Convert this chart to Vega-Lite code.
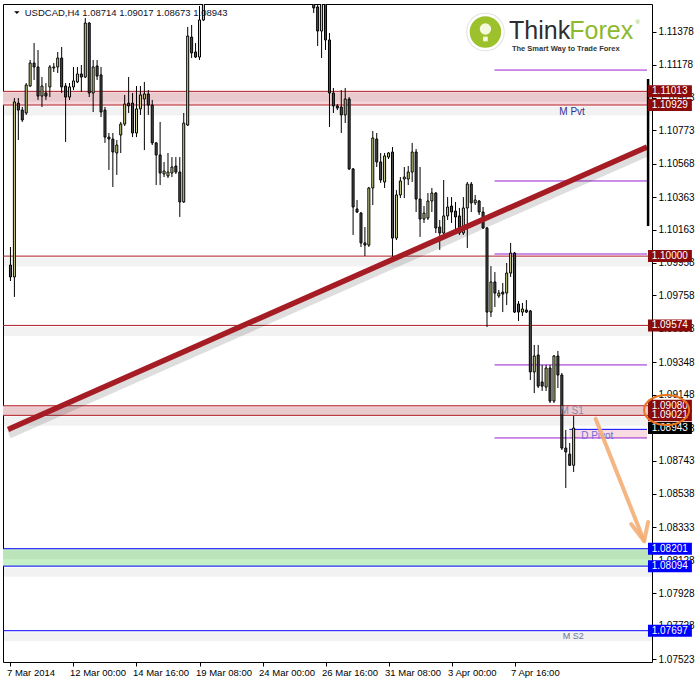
{
 "$schema": "https://vega.github.io/schema/vega-lite/v6.json",
 "width": 649,
 "height": 658,
 "autosize": {"type": "none"},
 "padding": {"left": 3, "top": 4, "right": 45, "bottom": 20},
 "background": "#ffffff",
 "config": {
  "font": "Liberation Sans",
  "view": {"stroke": "#000000", "strokeWidth": 1},
  "axis": {"grid": false, "domain": false, "tickColor": "#000000", "tickWidth": 1, "labelColor": "#000000", "labelOverlap": false, "labelBound": false, "labelFlush": false}
 },
 "datasets": {
  "candles": [
   {"i":0,"o":1.09945,"h":1.10056,"l":1.09847,"c":1.09872},
   {"i":1,"o":1.09872,"h":1.10972,"l":1.09749,"c":1.10948},
   {"i":2,"o":1.10941,"h":1.10972,"l":1.10714,"c":1.10898},
   {"i":3,"o":1.10898,"h":1.10917,"l":1.10825,"c":1.10837},
   {"i":4,"o":1.10880,"h":1.11064,"l":1.10868,"c":1.11052},
   {"i":5,"o":1.11046,"h":1.11206,"l":1.11040,"c":1.11187},
   {"i":6,"o":1.11187,"h":1.11310,"l":1.11083,"c":1.11163},
   {"i":7,"o":1.11163,"h":1.11267,"l":1.10960,"c":1.10984},
   {"i":8,"o":1.10984,"h":1.11101,"l":1.10917,"c":1.11046},
   {"i":9,"o":1.11003,"h":1.11064,"l":1.10960,"c":1.10984},
   {"i":10,"o":1.11040,"h":1.11175,"l":1.10978,"c":1.11163},
   {"i":11,"o":1.11157,"h":1.11187,"l":1.11132,"c":1.11163},
   {"i":12,"o":1.11163,"h":1.11255,"l":1.11126,"c":1.11218},
   {"i":13,"o":1.11218,"h":1.11286,"l":1.11003,"c":1.11040},
   {"i":14,"o":1.11046,"h":1.11064,"l":1.10702,"c":1.10978},
   {"i":15,"o":1.10978,"h":1.11064,"l":1.10960,"c":1.11040},
   {"i":16,"o":1.11040,"h":1.11163,"l":1.11021,"c":1.11077},
   {"i":17,"o":1.11071,"h":1.11163,"l":1.11064,"c":1.11120},
   {"i":18,"o":1.11120,"h":1.11175,"l":1.11009,"c":1.11101},
   {"i":19,"o":1.11101,"h":1.11464,"l":1.11095,"c":1.11433},
   {"i":20,"o":1.11433,"h":1.11439,"l":1.10978,"c":1.11003},
   {"i":21,"o":1.11003,"h":1.11206,"l":1.10886,"c":1.11163},
   {"i":22,"o":1.11169,"h":1.11206,"l":1.11083,"c":1.11107},
   {"i":23,"o":1.11114,"h":1.11163,"l":1.10855,"c":1.10886},
   {"i":24,"o":1.10898,"h":1.10917,"l":1.10696,"c":1.10732},
   {"i":25,"o":1.10732,"h":1.10757,"l":1.10530,"c":1.10720},
   {"i":26,"o":1.10720,"h":1.10757,"l":1.10425,"c":1.10640},
   {"i":27,"o":1.10634,"h":1.10714,"l":1.10499,"c":1.10683},
   {"i":28,"o":1.10745,"h":1.10825,"l":1.10634,"c":1.10812},
   {"i":29,"o":1.10812,"h":1.10991,"l":1.10800,"c":1.10935},
   {"i":30,"o":1.10941,"h":1.11101,"l":1.10880,"c":1.10923},
   {"i":31,"o":1.10941,"h":1.11003,"l":1.10732,"c":1.10757},
   {"i":32,"o":1.10757,"h":1.11046,"l":1.10732,"c":1.10905},
   {"i":33,"o":1.10905,"h":1.11046,"l":1.10868,"c":1.10991},
   {"i":34,"o":1.10966,"h":1.11071,"l":1.10652,"c":1.10997},
   {"i":35,"o":1.10997,"h":1.11021,"l":1.10868,"c":1.10929},
   {"i":36,"o":1.10929,"h":1.10960,"l":1.10683,"c":1.10696},
   {"i":37,"o":1.10696,"h":1.10702,"l":1.10437,"c":1.10622},
   {"i":38,"o":1.10622,"h":1.10825,"l":1.10437,"c":1.10511},
   {"i":39,"o":1.10505,"h":1.10579,"l":1.10486,"c":1.10523},
   {"i":40,"o":1.10493,"h":1.10634,"l":1.10480,"c":1.10517},
   {"i":41,"o":1.10511,"h":1.10609,"l":1.10486,"c":1.10548},
   {"i":42,"o":1.10554,"h":1.10609,"l":1.10505,"c":1.10517},
   {"i":43,"o":1.10517,"h":1.10609,"l":1.10241,"c":1.10333},
   {"i":44,"o":1.10333,"h":1.10880,"l":1.10327,"c":1.10818},
   {"i":45,"o":1.10806,"h":1.11409,"l":1.10800,"c":1.11353},
   {"i":46,"o":1.11347,"h":1.11421,"l":1.11218,"c":1.11249},
   {"i":47,"o":1.11255,"h":1.11310,"l":1.11218,"c":1.11224},
   {"i":48,"o":1.11224,"h":1.11538,"l":1.11206,"c":1.11452},
   {"i":49,"o":1.11452,"h":1.11720,"l":1.11445,"c":1.11650},
   {"i":77,"o":1.11570,"h":1.11620,"l":1.11495,"c":1.11526},
   {"i":78,"o":1.11532,"h":1.11600,"l":1.11292,"c":1.11384},
   {"i":79,"o":1.11384,"h":1.11650,"l":1.11218,"c":1.11600},
   {"i":80,"o":1.11610,"h":1.11660,"l":1.11267,"c":1.11329},
   {"i":81,"o":1.11329,"h":1.11372,"l":1.10794,"c":1.11003},
   {"i":82,"o":1.11003,"h":1.11034,"l":1.10880,"c":1.10923},
   {"i":83,"o":1.10923,"h":1.10935,"l":1.10898,"c":1.10911},
   {"i":84,"o":1.10917,"h":1.11021,"l":1.10757,"c":1.10868},
   {"i":85,"o":1.10868,"h":1.11034,"l":1.10818,"c":1.10966},
   {"i":86,"o":1.10966,"h":1.10978,"l":1.10530,"c":1.10536},
   {"i":87,"o":1.10536,"h":1.10542,"l":1.10130,"c":1.10302},
   {"i":88,"o":1.10290,"h":1.10345,"l":1.10265,"c":1.10271},
   {"i":89,"o":1.10265,"h":1.10271,"l":1.10056,"c":1.10081},
   {"i":90,"o":1.10081,"h":1.10179,"l":1.10001,"c":1.10068},
   {"i":91,"o":1.10068,"h":1.10425,"l":1.10056,"c":1.10419},
   {"i":92,"o":1.10419,"h":1.10769,"l":1.10314,"c":1.10726},
   {"i":93,"o":1.10720,"h":1.10757,"l":1.10548,"c":1.10579},
   {"i":94,"o":1.10579,"h":1.10634,"l":1.10450,"c":1.10468},
   {"i":95,"o":1.10456,"h":1.10634,"l":1.10419,"c":1.10616},
   {"i":96,"o":1.10609,"h":1.10640,"l":1.10597,"c":1.10634},
   {"i":97,"o":1.10640,"h":1.10671,"l":1.09995,"c":1.10111},
   {"i":98,"o":1.10111,"h":1.10406,"l":1.10099,"c":1.10376},
   {"i":99,"o":1.10376,"h":1.10486,"l":1.10357,"c":1.10462},
   {"i":100,"o":1.10474,"h":1.10548,"l":1.10357,"c":1.10486},
   {"i":101,"o":1.10474,"h":1.10554,"l":1.10437,"c":1.10517},
   {"i":102,"o":1.10517,"h":1.10696,"l":1.10456,"c":1.10640},
   {"i":103,"o":1.10640,"h":1.10659,"l":1.10271,"c":1.10351},
   {"i":104,"o":1.10351,"h":1.10548,"l":1.10118,"c":1.10228},
   {"i":105,"o":1.10228,"h":1.10308,"l":1.10204,"c":1.10265},
   {"i":106,"o":1.10234,"h":1.10388,"l":1.10222,"c":1.10339},
   {"i":107,"o":1.10339,"h":1.10419,"l":1.10271,"c":1.10388},
   {"i":108,"o":1.10388,"h":1.10394,"l":1.10142,"c":1.10173},
   {"i":109,"o":1.10179,"h":1.10222,"l":1.10038,"c":1.10142},
   {"i":110,"o":1.10142,"h":1.10468,"l":1.10130,"c":1.10247},
   {"i":111,"o":1.10247,"h":1.10363,"l":1.10222,"c":1.10302},
   {"i":112,"o":1.10308,"h":1.10363,"l":1.10204,"c":1.10271},
   {"i":113,"o":1.10277,"h":1.10333,"l":1.10161,"c":1.10241},
   {"i":114,"o":1.10247,"h":1.10296,"l":1.10130,"c":1.10142},
   {"i":115,"o":1.10142,"h":1.10363,"l":1.10130,"c":1.10296},
   {"i":116,"o":1.10296,"h":1.10456,"l":1.10050,"c":1.10443},
   {"i":117,"o":1.10443,"h":1.10456,"l":1.10271,"c":1.10327},
   {"i":118,"o":1.10327,"h":1.10376,"l":1.10314,"c":1.10345},
   {"i":119,"o":1.10339,"h":1.10345,"l":1.10253,"c":1.10271},
   {"i":120,"o":1.10271,"h":1.10302,"l":1.10167,"c":1.10173},
   {"i":121,"o":1.10173,"h":1.10179,"l":1.09564,"c":1.09656},
   {"i":122,"o":1.09656,"h":1.09939,"l":1.09626,"c":1.09841},
   {"i":123,"o":1.09841,"h":1.09902,"l":1.09687,"c":1.09773},
   {"i":124,"o":1.09755,"h":1.09792,"l":1.09743,"c":1.09773},
   {"i":125,"o":1.09779,"h":1.09835,"l":1.09656,"c":1.09767},
   {"i":126,"o":1.09773,"h":1.09958,"l":1.09699,"c":1.09896},
   {"i":127,"o":1.09896,"h":1.10081,"l":1.09872,"c":1.10019},
   {"i":128,"o":1.10019,"h":1.10025,"l":1.09650,"c":1.09656},
   {"i":129,"o":1.09706,"h":1.09724,"l":1.09601,"c":1.09656},
   {"i":130,"o":1.09656,"h":1.09712,"l":1.09632,"c":1.09675},
   {"i":131,"o":1.09669,"h":1.09730,"l":1.09650,"c":1.09656},
   {"i":132,"o":1.09663,"h":1.09669,"l":1.09238,"c":1.09288},
   {"i":133,"o":1.09288,"h":1.09454,"l":1.09158,"c":1.09386},
   {"i":134,"o":1.09392,"h":1.09454,"l":1.09189,"c":1.09201},
   {"i":135,"o":1.09226,"h":1.09331,"l":1.09171,"c":1.09201},
   {"i":136,"o":1.09195,"h":1.09331,"l":1.09171,"c":1.09312},
   {"i":137,"o":1.09312,"h":1.09331,"l":1.09097,"c":1.09109},
   {"i":138,"o":1.09109,"h":1.09392,"l":1.09097,"c":1.09386},
   {"i":139,"o":1.09386,"h":1.09417,"l":1.09189,"c":1.09269},
   {"i":140,"o":1.09269,"h":1.09282,"l":1.08808,"c":1.08820},
   {"i":141,"o":1.08820,"h":1.08931,"l":1.08574,"c":1.08796},
   {"i":142,"o":1.08783,"h":1.08851,"l":1.08710,"c":1.08714},
   {"i":143,"o":1.08714,"h":1.09017,"l":1.08673,"c":1.08943}
  ],
  "levels": [
   {"p":1.11013,"kind":"res"},{"p":1.10929,"kind":"res"},{"p":1.10000,"kind":"res"},
   {"p":1.09574,"kind":"res"},{"p":1.09080,"kind":"res"},{"p":1.09021,"kind":"res"},
   {"p":1.08201,"kind":"sup"},{"p":1.08094,"kind":"sup"},{"p":1.07697,"kind":"sup"}
  ],
  "bands": [
   {"top":1.11013,"bot":1.10929,"kind":"res"},
   {"top":1.09080,"bot":1.09021,"kind":"res"},
   {"top":1.08201,"bot":1.08094,"kind":"sup"}
  ],
  "pivots": [
   {"p":1.11144,"start":122.9},{"p":1.10462,"start":122.9},{"p":1.10013,"start":122.9},
   {"p":1.09331,"start":122.9},{"p":1.08882,"start":122.9}
  ],
  "dpivot": [{"top":1.08935,"bot":1.08882,"start":141.9}],
  "tags": [
   {"p":1.11013,"kind":"res"},{"p":1.10929,"kind":"res"},{"p":1.10000,"kind":"res"},
   {"p":1.09574,"kind":"res"},{"p":1.09080,"kind":"res"},{"p":1.09021,"kind":"res"},
   {"p":1.08943,"kind":"bid"},{"p":1.08201,"kind":"sup"},{"p":1.08094,"kind":"sup"},
   {"p":1.07697,"kind":"sup"}
  ],
  "trend": [{"i":-0.625,"p":1.08934},{"i":161.625,"p":1.10671}],
  "arrow": [
   {"seg":"shaft","o":0,"i":148.6,"p":1.08999},
   {"seg":"shaft","o":1,"i":160.9,"p":1.08248},
   {"seg":"head","o":0,"i":157.6,"p":1.08353},
   {"seg":"head","o":1,"i":160.9,"p":1.08248},
   {"seg":"head","o":2,"i":161.9,"p":1.08365}
  ]
 },
 "layer": [
  {
   "data": {"name": "bands"},
   "mark": {"type": "rect"},
   "encoding": {
    "y": {"field": "top", "type": "quantitative", "title": null,
     "scale": {"domain": [1.075046, 1.115501], "nice": false, "zero": false},
     "axis": {"orient": "right", "values": [1.11378,1.11178,1.10973,1.10773,1.10568,1.10363,1.10163,1.09958,1.09758,1.09553,1.09348,1.09148,1.08943,1.08743,1.08538,1.08333,1.08128,1.07928,1.07728,1.07523],
      "tickCount": 60, "format": ".5f", "labelFontSize": 10, "labelPadding": 2, "tickSize": 4, "labelOverlap": false, "labelBound": false, "labelFlush": false, "title": null}},
    "y2": {"field": "bot"},
    "fill": {"condition": {"test": "datum.kind == 'res'", "value": "#F6D6DA"}, "value": "#C6F1C6"}
   }
  },
  {
   "data": {"name": "dpivot"},
   "mark": {"type": "rect", "fill": "#F8DCE1"},
   "encoding": {
    "x": {"field": "start", "type": "quantitative"},
    "x2": {"datum": 161.625},
    "y": {"field": "top", "type": "quantitative"},
    "y2": {"field": "bot"}
   }
  },
  {
   "data": {"name": "levels"},
   "mark": {"type": "rule", "color": "#000000", "opacity": 0.05, "strokeWidth": 9, "yOffset": 6},
   "encoding": {"y": {"field": "p", "type": "quantitative"}}
  },
  {
   "data": {"name": "levels"},
   "mark": {"type": "rule", "strokeWidth": 1},
   "encoding": {
    "y": {"field": "p", "type": "quantitative"},
    "color": {"condition": {"test": "datum.kind == 'res'", "value": "#B01E26"}, "value": "#0000FF"}
   }
  },
  {
   "data": {"name": "pivots"},
   "mark": {"type": "rule", "color": "#9A1FD0", "strokeWidth": 1},
   "encoding": {
    "x": {"field": "start", "type": "quantitative"},
    "x2": {"datum": 161.625},
    "y": {"field": "p", "type": "quantitative"}
   }
  },
  {
   "data": {"name": "dpivot"},
   "mark": {"type": "rule", "color": "#0000FF", "strokeWidth": 1},
   "encoding": {
    "x": {"field": "start", "type": "quantitative"},
    "x2": {"datum": 161.625},
    "y": {"field": "top", "type": "quantitative"}
   }
  },
  {
   "data": {"name": "candles"},
   "mark": {"type": "rule", "color": "#000000", "strokeWidth": 1, "clip": true},
   "encoding": {
    "x": {"field": "i", "type": "quantitative", "title": null,
     "scale": {"domain": [-0.625, 161.625], "nice": false, "zero": false},
     "axis": {"values": [0,16,32,48,64,80,96,112,128], "tickCount": 40,
      "labelExpr": "['7 Mar 2014','12 Mar 00:00','14 Mar 16:00','19 Mar 08:00','24 Mar 00:00','26 Mar 16:00','31 Mar 08:00','3 Apr 00:00','7 Apr 16:00'][round(datum.value/16)]",
      "labelAlign": "left", "labelFontSize": 9.5, "labelPadding": 1, "labelOffset": -4, "tickSize": 4, "labelFlush": false, "labelOverlap": false, "labelBound": false, "title": null}},
    "y": {"field": "l", "type": "quantitative"},
    "y2": {"field": "h"}
   }
  },
  {
   "data": {"name": "candles"},
   "mark": {"type": "bar", "width": 2, "stroke": "#000000", "strokeWidth": 1, "clip": true},
   "encoding": {
    "x": {"field": "i", "type": "quantitative"},
    "y": {"field": "o", "type": "quantitative"},
    "y2": {"field": "c"},
    "fill": {"condition": {"test": "datum.c >= datum.o", "value": "#D7DB8E"}, "value": "#4E4E4E"}
   }
  },
  {
   "data": {"name": "trend"},
   "mark": {"type": "line", "color": "#000000", "opacity": 0.13, "strokeWidth": 8, "yOffset": 5, "xOffset": 1, "clip": true},
   "encoding": {"x": {"field": "i", "type": "quantitative"}, "y": {"field": "p", "type": "quantitative"}}
  },
  {
   "data": {"name": "trend"},
   "mark": {"type": "line", "color": "#A61C24", "strokeWidth": 5.5, "clip": true},
   "encoding": {"x": {"field": "i", "type": "quantitative"}, "y": {"field": "p", "type": "quantitative"}}
  },
  {
   "data": {"values": [{"t": "M Pvt"}]},
   "mark": {"type": "text", "fontSize": 10, "color": "#2E3192", "align": "center", "baseline": "middle"},
   "encoding": {"x": {"datum": 142.6}, "y": {"datum": 1.10889}, "text": {"field": "t"}}
  },
  {
   "data": {"values": [{"t": "M S1"}]},
   "mark": {"type": "text", "fontSize": 10, "color": "#8A8AAE", "align": "center", "baseline": "middle"},
   "encoding": {"x": {"datum": 142.6}, "y": {"datum": 1.09048}, "text": {"field": "t"}}
  },
  {
   "data": {"values": [{"t": "D Pivot"}]},
   "mark": {"type": "text", "fontSize": 10, "color": "#6E6EDC", "align": "left", "baseline": "middle"},
   "encoding": {"x": {"datum": 144.9}, "y": {"datum": 1.08894}, "text": {"field": "t"}}
  },
  {
   "data": {"values": [{"t": "M S2"}]},
   "mark": {"type": "text", "fontSize": 9, "color": "#70709A", "align": "center", "baseline": "middle"},
   "encoding": {"x": {"datum": 142.9}, "y": {"datum": 1.07664}, "text": {"field": "t"}}
  },
  {
   "data": {"values": [{"t": "v"}]},
   "mark": {"type": "point", "shape": "M -1 -0.5 L 1 -0.5 L 0 0.5 Z", "size": 29, "filled": true, "color": "#000000", "opacity": 1},
   "encoding": {"x": {"datum": 1.625}, "y": {"datum": 1.11497}}
  },
  {
   "data": {"values": [{"t": "USDCAD,H4  1.08714 1.09017 1.08673 1.08943"}]},
   "mark": {"type": "text", "fontSize": 9.5, "color": "#101028", "align": "left", "baseline": "middle"},
   "encoding": {"x": {"datum": 3.625}, "y": {"datum": 1.11497}, "text": {"field": "t"}}
  },
  {
   "data": {"values": [{"t": "logo"}]},
   "mark": {"type": "point", "shape": "circle", "size": 1500, "filled": true, "color": "#E4E4E4", "opacity": 1},
   "encoding": {"x": {"datum": 120.6}, "y": {"datum": 1.11378}}
  },
  {
   "data": {"values": [{"t": "logo"}]},
   "mark": {"type": "point", "shape": "circle", "size": 1156, "filled": true, "fill": "#9CC12C", "stroke": "#ffffff", "strokeWidth": 2.5, "opacity": 1},
   "encoding": {"x": {"datum": 120.6}, "y": {"datum": 1.11378}}
  },
  {
   "data": {"values": [{"t": "bulb"}]},
   "mark": {"type": "point", "shape": "circle", "size": 130, "filled": true, "color": "#F4F8DC", "opacity": 1},
   "encoding": {"x": {"datum": 120.6}, "y": {"datum": 1.11396}}
  },
  {
   "data": {"values": [{"t": "base"}]},
   "mark": {"type": "point", "shape": "square", "size": 22, "filled": true, "color": "#F4F8DC", "opacity": 1},
   "encoding": {"x": {"datum": 120.6}, "y": {"datum": 1.11335}}
  },
  {
   "data": {"values": [{"t": "Think"}]},
   "mark": {"type": "text", "fontSize": 25, "color": "#2E2E2E", "align": "left", "baseline": "alphabetic"},
   "encoding": {"x": {"datum": 126.6}, "y": {"datum": 1.11335}, "text": {"field": "t"}}
  },
  {
   "data": {"values": [{"t": "Forex"}]},
   "mark": {"type": "text", "fontSize": 25, "color": "#8DB92E", "align": "left", "baseline": "alphabetic"},
   "encoding": {"x": {"datum": 141.9}, "y": {"datum": 1.11335}, "text": {"field": "t"}}
  },
  {
   "data": {"values": [{"t": "®"}]},
   "mark": {"type": "text", "fontSize": 6, "color": "#8DB92E", "align": "left", "baseline": "middle"},
   "encoding": {"x": {"datum": 158.7}, "y": {"datum": 1.11440}, "text": {"field": "t"}}
  },
  {
   "data": {"values": [{"t": "The Smart Way to Trade Forex"}]},
   "mark": {"type": "text", "fontSize": 7.5, "fontWeight": "bold", "color": "#333333", "align": "center", "baseline": "middle"},
   "encoding": {"x": {"datum": 141.0}, "y": {"datum": 1.11274}, "text": {"field": "t"}}
  },
  {
   "data": {"values": [{"t": "bar"}]},
   "mark": {"type": "rule", "color": "#000000", "strokeWidth": 2.5},
   "encoding": {"x": {"datum": 161.9}, "y": {"datum": 1.11089}, "y2": {"datum": 1.10185}}
  },
  {
   "data": {"name": "tags"},
   "mark": {"type": "point", "shape": "M -1.83 -0.5 L 1.83 -0.5 L 1.83 0.5 L -1.83 0.5 Z", "size": 576, "filled": true, "opacity": 1, "strokeWidth": 0},
   "encoding": {
    "x": {"datum": 167.45},
    "y": {"field": "p", "type": "quantitative"},
    "fill": {"condition": [{"test": "datum.kind == 'res'", "value": "#8B0A0A"}, {"test": "datum.kind == 'bid'", "value": "#000000"}], "value": "#0000FF"}
   }
  },
  {
   "data": {"name": "tags"},
   "mark": {"type": "text", "fontSize": 10, "color": "#ffffff", "align": "center", "baseline": "middle"},
   "encoding": {
    "x": {"datum": 167.4},
    "y": {"field": "p", "type": "quantitative"},
    "text": {"field": "p", "type": "quantitative", "format": ".5f"}
   }
  },
  {
   "data": {"values": [{"t": "ring"}]},
   "mark": {"type": "point", "shape": "M -1.5 0 A 1.5 1 0 1 0 1.5 0 A 1.5 1 0 1 0 -1.5 0 Z", "size": 900, "filled": false, "stroke": "#E8731E", "strokeWidth": 2, "opacity": 1},
   "encoding": {"x": {"datum": 166.6}, "y": {"datum": 1.09054}}
  },
  {
   "data": {"name": "arrow"},
   "mark": {"type": "line", "color": "#F3AE76", "strokeWidth": 4, "strokeCap": "round", "strokeJoin": "round", "opacity": 0.9},
   "encoding": {
    "x": {"field": "i", "type": "quantitative"},
    "y": {"field": "p", "type": "quantitative"},
    "detail": {"field": "seg"},
    "order": {"field": "o"}
   }
  }
 ]
}
